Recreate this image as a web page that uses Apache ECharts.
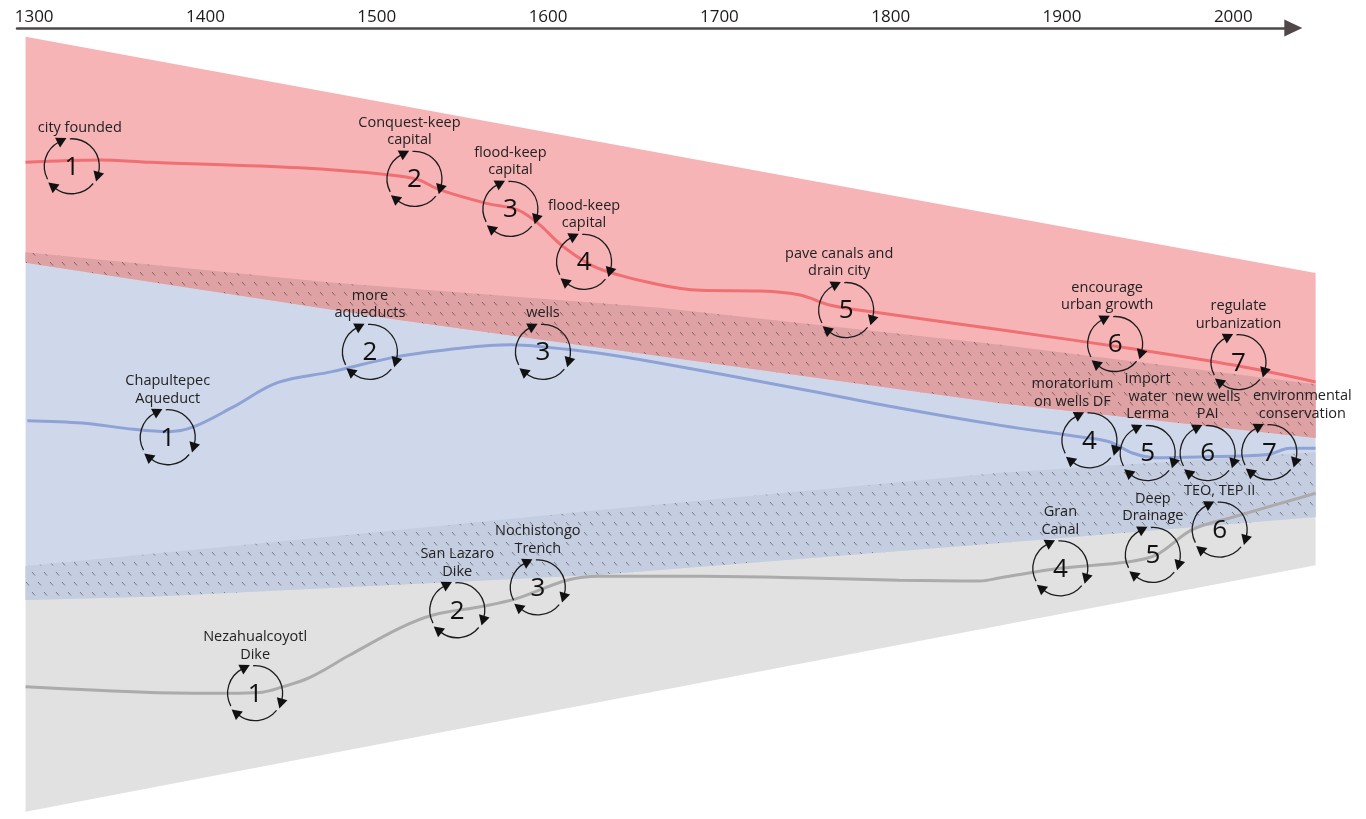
<!DOCTYPE html>
<html>
<head>
<meta charset="utf-8">
<title>Mexico City water management timeline</title>
<script src="https://cdn.jsdelivr.net/npm/echarts@6/dist/echarts.min.js"></script>
<style>
html, body { margin: 0; padding: 0; background: #fff; }
#chart { width: 1366px; height: 819px; }
</style>
</head>
<body>
<div id="chart"></div>
<script>
// ---- data ----
const yearTicks = [1300, 1400, 1500, 1600, 1700, 1800, 1900, 2000];

// band edges, [year, level]
const cityTop = [[1295, 98.9], [2048, 69.0]];
const cityBottom = [[1295, 70.3], [1514, 63.0], [1864, 52.5], [2048, 48.1]];
const supplyTop = [[1295, 71.6], [1473, 67.8], [1665, 64.6], [1864, 59.9], [2048, 54.9]];
const supplyBottom = [[1295, 27.6], [1368, 28.0], [1630, 30.8], [1864, 34.8], [2048, 38.1]];
const drainTop = [[1295, 31.9], [1514, 36.5], [1630, 39.0], [1864, 43.7], [2048, 46.3]];
const drainBottom = [[1295, 0.8], [2048, 32.0]];

// trajectories
const cityLine = [[1295, 83.0], [1338, 83.3], [1368, 83.0], [1455, 82.3], [1508, 81.4], [1524, 80.8],
  [1537, 79.5], [1564, 77.8], [1582, 77.0], [1594, 75.3], [1609, 72.3], [1629, 69.6], [1665, 67.5],
  [1689, 66.8], [1724, 66.7], [1747, 66.2], [1765, 64.9], [1788, 64.1], [1864, 61.8], [1947, 59.2],
  [2001, 57.3], [2048, 55.2]];
const supplyLine = [[1296, 50.3], [1328, 50.0], [1358, 49.2], [1378, 48.9], [1393, 49.5], [1416, 52.0],
  [1442, 55.1], [1474, 56.5], [1512, 58.4], [1550, 59.5], [1578, 59.9], [1599, 59.6], [1628, 58.9],
  [1665, 57.6], [1747, 54.3], [1805, 51.9], [1864, 49.7], [1912, 48.2], [1928, 47.6], [1941, 46.2],
  [1955, 45.6], [1980, 45.7], [2020, 46.0], [2033, 46.8], [2048, 46.8]];
const drainLine = [[1295, 16.6], [1368, 15.9], [1413, 15.8], [1432, 15.9], [1445, 16.6], [1461, 17.8],
  [1484, 20.6], [1514, 24.1], [1533, 25.7], [1562, 26.8], [1582, 27.8], [1611, 30.1], [1630, 30.6],
  [1689, 30.6], [1747, 30.4], [1805, 30.1], [1852, 30.0], [1864, 30.4], [1899, 31.6], [1938, 32.4],
  [1955, 33.3], [1976, 36.5], [2000, 38.1], [2048, 41.1]];

// events: [year, level, step, label]
const cityEvents = [
  [1322, 82.5, 1, 'city founded'],
  [1522, 80.9, 2, 'Conquest-keep\ncapital'],
  [1578, 77.1, 3, 'flood-keep\ncapital'],
  [1621, 70.4, 4, 'flood-keep\ncapital'],
  [1774, 64.3, 5, 'pave canals and\ndrain city'],
  [1931, 60.0, 6, 'encourage\nurban growth'],
  [2003, 57.7, 7, 'regulate\nurbanization']
];
const supplyEvents = [
  [1378, 48.2, 1, 'Chapultepec\nAqueduct'],
  [1496, 59.0, 2, 'more\naqueducts'],
  [1597, 59.0, 3, 'wells'],
  [1916, 47.8, 4, 'moratorium\non wells DF'],
  [1950, 46.2, 5, 'import\nwater\nLerma'],
  [1985, 46.2, 6, 'new wells\nPAI'],
  [2021, 46.3, 7, 'environmental\nconservation']
];
const drainEvents = [
  [1429, 15.8, 1, 'Nezahualcoyotl\nDike'],
  [1547, 26.3, 2, 'San Lazaro\nDike'],
  [1594, 29.2, 3, 'Nochistongo\nTrench'],
  [1899, 31.6, 4, 'Gran\nCanal'],
  [1953, 33.3, 5, 'Deep\nDrainage'],
  [1992, 36.5, 6, 'TEO, TEP II']
];

// ---- layout / style ----
const FONT = "'Open Sans', 'Noto Sans', sans-serif";
const R = 27.5;
const ARROWS = [16, 129, 243].map(d => d * Math.PI / 180);
// small horizontal nudges of some captions (px)
const labelDx = { 'city founded': 8, 'pave canals and\ndrain city': -7, 'encourage\nurban growth': -8,
  'moratorium\non wells DF': -17, 'environmental\nconservation': 33, 'Conquest-keep\ncapital': -5 };

function hatchPattern() {
  const c = document.createElement('canvas');
  c.width = 12; c.height = 20;
  const g = c.getContext('2d');
  g.strokeStyle = 'rgba(40,40,40,0.5)';
  g.lineWidth = 1;
  g.beginPath();
  g.moveTo(2, 2); g.lineTo(5, 5.5);
  g.moveTo(8, 12); g.lineTo(11, 15.5);
  g.stroke();
  return { image: c, repeat: 'repeat' };
}
const hatch = hatchPattern();

function band(top, bottom, fill, z, hatched) {
  return {
    type: 'custom',
    silent: true,
    z: z,
    data: [top[0]],
    renderItem: function (params, api) {
      const pts = top.map(p => api.coord(p))
        .concat(bottom.slice().reverse().map(p => api.coord(p)));
      const kids = [{ type: 'polygon', shape: { points: pts }, style: { fill: fill } }];
      if (hatched) kids.push({ type: 'polygon', shape: { points: pts }, style: { fill: hatch } });
      return { type: 'group', children: kids };
    }
  };
}

function trajectory(data, color) {
  return {
    type: 'line',
    data: data,
    smooth: 0.35,
    symbol: 'none',
    silent: true,
    z: 5,
    lineStyle: { color: color, width: 3 }
  };
}

function cycles(events) {
  return {
    type: 'custom',
    silent: true,
    z: 10,
    data: events.map(e => [e[0], e[1]]),
    renderItem: function (params, api) {
      const ev = events[params.dataIndex];
      const p = api.coord([api.value(0), api.value(1)]);
      const cx = p[0], cy = p[1];
      const kids = [];
      ARROWS.forEach((a, i) => {
        const prev = ARROWS[(i + 2) % 3];
        const start = prev + 0.4;
        let end = a;
        while (end < start) end += Math.PI * 2;
        kids.push({
          type: 'arc',
          shape: { cx: cx, cy: cy, r: R, startAngle: start, endAngle: end, clockwise: true },
          style: { stroke: '#1c1c1c', lineWidth: 1.3, fill: null }
        });
        const px = cx + R * Math.cos(a), py = cy + R * Math.sin(a);
        const tx = -Math.sin(a), ty = Math.cos(a);
        const nx = Math.cos(a), ny = Math.sin(a);
        kids.push({
          type: 'polygon',
          shape: { points: [[px + tx * 8, py + ty * 8],
            [px - tx * 2 + nx * 5.5, py - ty * 2 + ny * 5.5],
            [px - tx * 2 - nx * 5.5, py - ty * 2 - ny * 5.5]] },
          style: { fill: '#111' }
        });
      });
      kids.push({
        type: 'text',
        style: { text: String(ev[2]), x: cx, y: cy + 1, align: 'center', verticalAlign: 'middle',
          fontSize: 26, fontFamily: FONT, fill: '#111' }
      });
      kids.push({
        type: 'text',
        style: { text: ev[3], x: cx + (labelDx[ev[3]] || 0), y: cy - 30, align: 'center',
          verticalAlign: 'bottom', fontSize: 14.5, lineHeight: 17.5, fontFamily: FONT, fill: '#222' }
      });
      return { type: 'group', children: kids };
    }
  };
}

const chart = echarts.init(document.getElementById('chart'), null, { renderer: 'canvas' });
chart.setOption({
  animation: false,
  backgroundColor: '#fff',
  grid: [
    { left: 17, right: 50.4, top: 28, bottom: 1 },   // bands, lines, cycles
    { left: 17, right: 72.7, top: 28, bottom: 1 }    // time arrow
  ],
  xAxis: [
    { type: 'value', gridIndex: 0, min: 1290, max: 2048, show: false },
    {
      type: 'value',
      gridIndex: 1,
      position: 'top',
      min: 1290,
      max: 2035,
      axisLine: {
        show: true,
        onZero: false,
        symbol: ['none', 'triangle'],
        symbolSize: [17, 18],
        lineStyle: { color: '#4f4748', width: 2.5 }
      },
      axisTick: { show: false },
      splitLine: { show: false },
      axisLabel: {
        customValues: yearTicks,
        formatter: v => String(v),
        color: '#1a1a1a',
        fontSize: 17,
        margin: 2,
        fontFamily: FONT
      }
    }
  ],
  yAxis: [
    { type: 'value', gridIndex: 0, min: 0, max: 100, show: false },
    { type: 'value', gridIndex: 1, min: 0, max: 100, show: false }
  ],
  series: [
    band(drainTop, drainBottom, '#e0e1e0', 1),
    band(supplyTop, supplyBottom, '#cfd8ea', 1),
    band(cityTop, cityBottom, '#f7b4b6', 1),
    band(supplyTop, cityBottom, '#dea1a4', 2, true),
    band(drainTop, supplyBottom, '#c5cde1', 2, true),
    trajectory(cityLine, '#ef6f73'),
    trajectory(supplyLine, '#8ea2d6'),
    trajectory(drainLine, '#ababab'),
    cycles(cityEvents),
    cycles(supplyEvents),
    cycles(drainEvents)
  ]
});
</script>
</body>
</html>
